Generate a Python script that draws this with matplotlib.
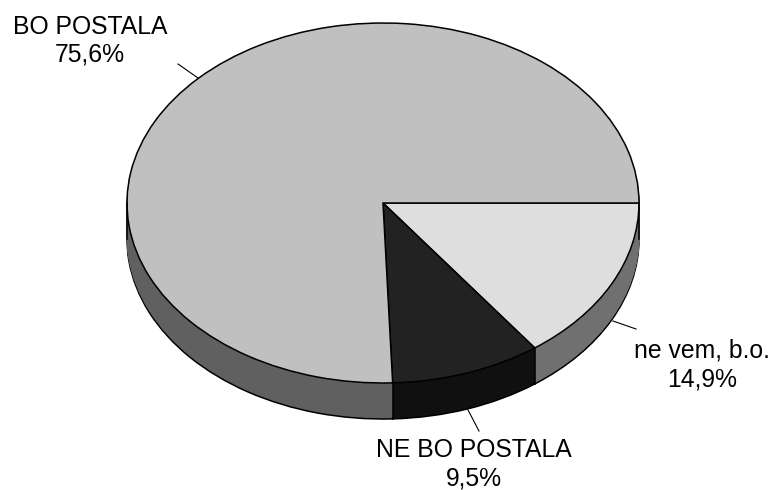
import numpy as np
import matplotlib
matplotlib.use('Agg')
import matplotlib.pyplot as plt

plt.rcParams['font.family'] = ['Liberation Sans', 'DejaVu Sans']

labels = ['ne vem, b.o.\n14,9%', 'NE BO POSTALA\n9,5%', 'BO POSTALA\n75,6%']
shares = [14.9, 9.5, 75.6]
top_colors = ['#dedede', '#222222', '#c0c0c0']
side_colors = ['#707070', '#101010', '#606060']

W, H = 778, 490
cx, cy, rx, ry = 383, 203, 256, 180
depth = 36

fig = plt.figure(figsize=(W / 100, H / 100), dpi=100)
ax = fig.add_axes([0, 0, 1, 1])


def px(x, y):
    return x / W, 1 - y / H


# bottom rim with black outline
ax.pie(shares, colors=side_colors, startangle=0, counterclock=False,
       center=(0, -depth / ry), radius=1,
       wedgeprops={'linewidth': 1.1, 'edgecolor': 'black'})

# side wall: the pie stacked upwards, one pixel at a time
for s in range(depth - 2, 0, -1):
    ax.pie(shares, colors=side_colors, startangle=0, counterclock=False,
           center=(0, -s / ry), radius=1,
           wedgeprops={'linewidth': 0.6})
    for w, c in zip(ax.patches[-3:], side_colors):
        w.set_edgecolor(c)

# vertical edges of the wall
ends = -np.radians(np.cumsum(shares[:2]) * 3.6)
for a in ends:
    ax.plot([np.cos(a)] * 2, [np.sin(a), np.sin(a) - depth / ry], color='black', lw=1.1)
for x in [-1, 1]:
    ax.plot([x, x], [0, -depth / ry], color='black', lw=1.1)

# top face
ax.pie(shares, colors=top_colors, startangle=0, counterclock=False,
       center=(0, 0), radius=1,
       wedgeprops={'linewidth': 1.1, 'edgecolor': 'black'})

ax.set_aspect('auto')
ax.set_xlim(-cx / rx, (W - cx) / rx)
ax.set_ylim(-(H - cy) / ry, cy / ry)
ax.axis('off')

# leader lines
leaders = [((613, 321), (636, 329)), ((468, 410), (479, 431)), ((198, 78), (178, 64))]
for p, q in leaders:
    a, b = px(*p), px(*q)
    ax.plot([a[0], b[0]], [a[1], b[1]], color='black', lw=0.8, transform=ax.transAxes)

label_pos = [(702, 365), (474, 464), (90, 41)]
line_gaps = [1.3, 1.25, 1.17]
for t, p, g in zip(labels, label_pos, line_gaps):
    x, y = px(*p)
    ax.text(x, y, t, transform=ax.transAxes, ha='center', va='center',
            fontsize=17.8, color='black', linespacing=g)

fig.savefig('out.png', dpi=100, facecolor='white')
